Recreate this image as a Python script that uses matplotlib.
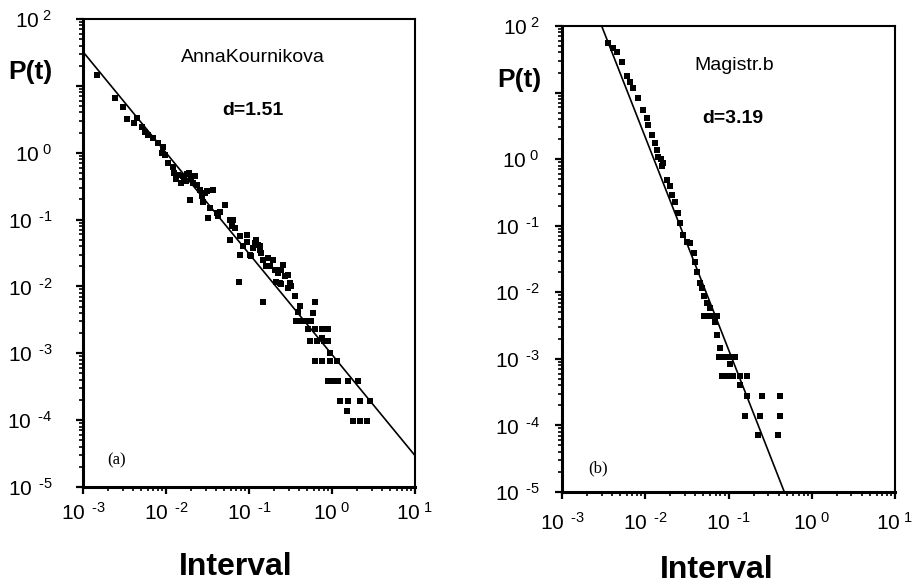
import numpy as np
import matplotlib
matplotlib.use("Agg")
import matplotlib.pyplot as plt
from matplotlib.ticker import LogLocator, FuncFormatter, NullFormatter

plt.rcParams['font.family'] = ['Liberation Sans', 'DejaVu Sans']
plt.rcParams['mathtext.fontset'] = 'custom'
plt.rcParams['mathtext.rm'] = 'Liberation Sans'

# ---------------- data (log10 values) ----------------
a_log_interval = [
    -2.835, -2.614, -2.514, -2.466, -2.353, -2.293, -2.253, -2.213, -2.153, -2.093,
    -2.033, -2.012, -1.972, -1.912, -1.90, -1.85, -1.80, -1.75, -1.70, -1.88,
    -1.82, -1.76, -1.68, -1.72, -1.59, -1.71, -1.55, -1.51, -1.43, -1.57,
    -1.47, -1.35, -1.29, -1.49, -1.39, -1.19, -1.23, -1.17, -1.23, -1.11,
    -1.03, -0.91, -1.07, -0.95, -0.87, -1.11, -0.97, -0.83, -0.71, -0.75,
    -0.79, -0.59, -0.65, -0.53, -0.67, -0.51, -0.49, -0.63, -0.57, -1.12,
    -0.83, -0.61, -0.53, -0.45, -0.205, -0.39, -0.225, -0.41, -0.43, -0.36,
    -0.30, -0.25, -0.29, -0.205, -0.12, -0.05, -0.12, -0.27, -0.18, -0.10,
    -0.05, -0.03, -0.205, -0.12, -0.025, 0.06, -0.05, 0.01, 0.07, 0.19,
    0.31, 0.10, 0.19, 0.34, 0.46, 0.18, 0.25, 0.34, 0.42,
    -0.99, -0.87, -1.03, -0.93, -0.89, -0.85, -0.77, -0.69, -0.61, -1.21,
    -1.37, -1.53, -1.63, -1.65, -1.78, -2.05, -2.38,
]
a_log_p = [
    1.163, 0.815, 0.680, 0.500, 0.516, 0.390, 0.316, 0.266, 0.216, 0.142,
    0.091, -0.030, -0.157, -0.207, -0.30, -0.33, -0.35, -0.32, -0.38, -0.40,
    -0.45, -0.42, -0.45, -0.30, -0.556, -0.706, -0.73, -0.58, -0.556, -0.64,
    -0.83, -0.88, -0.78, -0.98, -0.90, -1.00, -1.00, -1.12, -1.30, -1.25,
    -1.23, -1.30, -1.40, -1.43, -1.45, -1.53, -1.55, -1.60, -1.60, -1.70,
    -1.70, -1.68, -1.80, -1.83, -1.93, -1.95, -2.00, -1.95, -1.85, -1.93,
    -2.23, -1.97, -2.03, -2.15, -2.23, -2.30, -2.40, -2.38, -2.52, -2.52,
    -2.52, -2.52, -2.64, -2.64, -2.64, -2.64, -2.77, -2.82, -2.82, -2.82,
    -2.82, -3.00, -3.12, -3.12, -3.12, -3.12, -3.42, -3.42, -3.42, -3.42,
    -3.42, -3.72, -3.72, -3.72, -3.72, -3.87, -4.02, -4.02, -4.02,
    -1.53, -1.40, -1.33, -1.35, -1.38, -1.50, -1.58, -1.75, -1.75, -1.10,
    -0.95, -0.60, -0.48, -0.35, -0.38, 0.00, 0.45,
]

b_log_interval = [
    -2.444, -2.384, -2.343, -2.283, -2.22, -2.183, -2.143, -2.083, -2.023, -1.983,
    -1.963, -1.923, -1.883, -1.863, -1.843, -1.81, -1.783, -1.80, -1.743, -1.703,
    -1.683, -1.643, -1.603, -1.583, -1.543, -1.503, -1.463, -1.42, -1.40, -1.38,
    -1.34, -1.32, -1.30, -1.26, -1.22, -1.30, -1.25, -1.20, -1.14, -1.16,
    -1.14, -1.10, -1.12, -1.06, -0.99, -0.92, -0.98, -1.08, -1.02, -0.95,
    -0.86, -0.78, -0.86, -0.78, -0.60, -0.38, -0.80, -0.62, -0.38, -0.64,
    -0.40,
]
b_log_p = [
    1.74, 1.665, 1.614, 1.464, 1.25, 1.164, 1.064, 0.914, 0.739, 0.614,
    0.514, 0.364, 0.239, 0.139, 0.038, 0.00, -0.06, -0.11, -0.31, -0.41,
    -0.54, -0.64, -0.81, -0.96, -1.14, -1.24, -1.26, -1.41, -1.54, -1.69,
    -1.86, -1.94, -2.06, -2.16, -2.24, -2.36, -2.36, -2.36, -2.36, -2.44,
    -2.64, -2.84, -2.97, -2.97, -2.97, -2.97, -3.07, -3.26, -3.26, -3.26,
    -3.26, -3.26, -3.39, -3.56, -3.56, -3.56, -3.86, -3.86, -3.86, -4.14,
    -4.14,
]

# power-law fits: log10 P = intercept - d * log10 t
a_slope, a_intercept = 1.51, -3.02
b_slope, b_intercept = 3.19, -6.05

names = ["AnnaKournikova", "Magistr.b"]
d_labels = ["d=1.51", "d=3.19"]
panel_tags = ["(a)", "(b)"]
x_exponents = [-3, -2, -1, 0, 1]
y_exponents = [-5, -4, -3, -2, -1, 0, 2]   # 10^1 is left unlabeled (P(t) sits there)

W, H = 916, 586
fig = plt.figure(figsize=(W / 100, H / 100), dpi=100)

def fx(px):
    return px / W

def fy(py):
    return 1 - py / H

ax_a = fig.add_axes([fx(83), fy(487), fx(415) - fx(83), fy(19) - fy(487)])
ax_b = fig.add_axes([fx(562), fy(492), fx(895) - fx(562), fy(26) - fy(492)])

def make_fmt(allowed):
    def f(v, pos):
        e = int(round(np.log10(v)))
        if e not in allowed:
            return ''
        if e < 0:
            es = r'\hspace{0.5}' + '\u2010%d' % (-e)
        else:
            es = r'\hspace{0.3}' + '%d' % e
        return r'$\mathregular{10^{' + es + '}}$'
    return FuncFormatter(f)

def style(ax, ypad, xpad):
    ax.set_xscale('log')
    ax.set_yscale('log')
    ax.set_xlim(1e-3, 1e1)
    ax.set_ylim(1e-5, 1e2)
    ax.xaxis.set_major_locator(LogLocator(base=10, numticks=20))
    ax.yaxis.set_major_locator(LogLocator(base=10, numticks=20))
    ax.xaxis.set_minor_locator(LogLocator(base=10, subs=np.arange(2, 10), numticks=20))
    ax.yaxis.set_minor_locator(LogLocator(base=10, subs=np.arange(2, 10), numticks=20))
    ax.xaxis.set_major_formatter(make_fmt(x_exponents))
    ax.yaxis.set_major_formatter(make_fmt(y_exponents))
    ax.xaxis.set_minor_formatter(NullFormatter())
    ax.yaxis.set_minor_formatter(NullFormatter())
    ax.tick_params(which='major', direction='out', length=5, width=1.6,
                   labelsize=15, color='black')
    ax.tick_params(which='minor', direction='out', length=3, width=1.2)
    ax.tick_params(axis='y', which='major', pad=ypad)
    ax.tick_params(axis='x', which='major', pad=xpad)
    for s in ['left', 'bottom']:
        ax.spines[s].set_linewidth(2.2)
    for s in ['top', 'right']:
        ax.spines[s].set_linewidth(1.5)

style(ax_a, 17, 6)
style(ax_b, 11, 9)

for ax, lx, ly, slope, icpt in [
    (ax_a, a_log_interval, a_log_p, a_slope, a_intercept),
    (ax_b, b_log_interval, b_log_p, b_slope, b_intercept),
]:
    t = 10 ** np.array(lx)
    p = 10 ** np.array(ly)
    ax.plot(t, p, 's', color='black', markersize=4.0, markeredgewidth=0)
    tt = np.logspace(-3, 1, 200)
    ax.plot(tt, 10 ** (icpt - slope * np.log10(tt)), color='black', lw=1.2)

# texts inside / around panels
fig.text(fx(253), fy(62), names[0], ha='center', va='baseline', fontsize=14)
fig.text(fx(253), fy(115), d_labels[0], ha='center', va='baseline', fontsize=14, fontweight='bold')
fig.text(fx(734), fy(70), names[1], ha='center', va='baseline', fontsize=14)
fig.text(fx(733), fy(123), d_labels[1], ha='center', va='baseline', fontsize=14, fontweight='bold')
fig.text(fx(107), fy(464), panel_tags[0], ha='left', va='baseline', fontsize=12, family='Liberation Serif')
fig.text(fx(588), fy(472), panel_tags[1], ha='left', va='baseline', fontsize=12, family='Liberation Serif')

fig.text(fx(8), fy(79), "P(t)", ha='left', va='baseline', fontsize=19, fontweight='bold')
fig.text(fx(497), fy(87), "P(t)", ha='left', va='baseline', fontsize=19, fontweight='bold')
fig.text(fx(236), fy(575), "Interval", ha='center', va='baseline', fontsize=23, fontweight='bold')
fig.text(fx(717), fy(578), "Interval", ha='center', va='baseline', fontsize=23, fontweight='bold')

fig.savefig("out.png", dpi=100)
